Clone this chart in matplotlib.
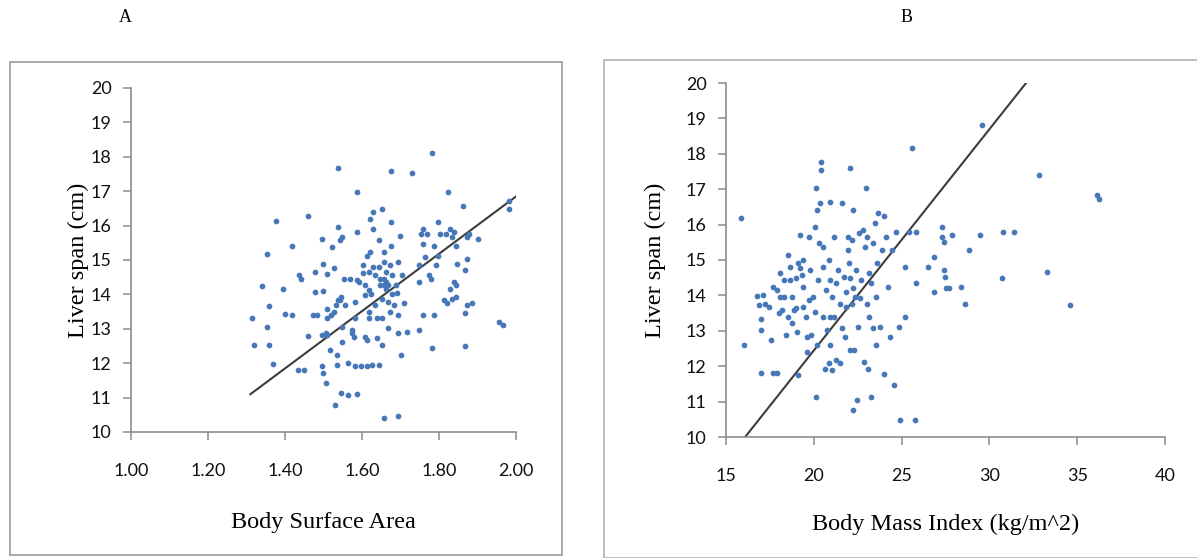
"""
Liver span vs body surface area (A) and body mass index (B)
"""

import numpy as np
import matplotlib
matplotlib.use("Agg")
import matplotlib.pyplot as plt
from matplotlib.patches import Rectangle

# panel A: body surface area vs liver span
bsa = [1.314, 1.319, 1.339, 1.352, 1.352, 1.359, 1.359, 1.369, 1.377, 1.394,
       1.399, 1.419, 1.419, 1.437, 1.442, 1.434, 1.449, 1.459, 1.459, 1.479,
       1.474, 1.484, 1.497, 1.499, 1.499, 1.497, 1.507, 1.508, 1.497, 1.499,
       1.507, 1.508, 1.510, 1.520, 1.516, 1.508, 1.528, 1.528, 1.533, 1.538,
       1.530, 1.538, 1.534, 1.536, 1.543, 1.548, 1.523, 1.543, 1.546, 1.548,
       1.553, 1.548, 1.546, 1.563, 1.563, 1.569, 1.573, 1.573, 1.578, 1.583,
       1.583, 1.583, 1.588, 1.588, 1.586, 1.538, 1.588, 1.593, 1.598, 1.603,
       1.603, 1.608, 1.608, 1.613, 1.613, 1.618, 1.618, 1.618, 1.620, 1.620,
       1.623, 1.626, 1.628, 1.628, 1.628, 1.633, 1.633, 1.638, 1.643, 1.643,
       1.648, 1.648, 1.651, 1.653, 1.653, 1.653, 1.656, 1.658, 1.658, 1.663,
       1.663, 1.663, 1.668, 1.668, 1.673, 1.676, 1.676, 1.676, 1.678, 1.678,
       1.683, 1.688, 1.690, 1.693, 1.693, 1.693, 1.693, 1.698, 1.700, 1.703,
       1.708, 1.718, 1.730, 1.748, 1.748, 1.748, 1.753, 1.758, 1.758, 1.768,
       1.763, 1.758, 1.773, 1.778, 1.783, 1.783, 1.788, 1.788, 1.793, 1.798,
       1.798, 1.803, 1.818, 1.823, 1.813, 1.820, 1.828, 1.828, 1.833, 1.838,
       1.838, 1.843, 1.843, 1.833, 1.843, 1.848, 1.862, 1.867, 1.867, 1.867,
       1.872, 1.872, 1.877, 1.872, 1.887, 1.902, 1.957, 1.967, 1.982, 1.982,
       1.608, 1.618, 1.643, 1.658, 1.658, 1.668, 1.613, 1.479, 1.557, 1.638,
       1.673]
liver_a = [13.30, 12.53, 14.24, 15.16, 13.04, 13.66, 12.53, 11.98, 16.12, 14.17,
           13.43, 13.40, 15.42, 14.56, 14.46, 11.81, 11.81, 16.29, 12.80, 14.65,
           13.40, 13.40, 15.62, 14.89, 14.10, 12.82, 12.87, 13.30, 11.91, 11.71,
           11.43, 14.58, 13.59, 13.40, 12.39, 12.82, 14.77, 13.49, 13.69, 13.83,
           10.78, 15.95, 11.94, 12.25, 15.57, 15.66, 15.38, 13.83, 13.93, 12.63,
           14.46, 13.06, 11.14, 11.09, 12.00, 14.46, 12.97, 12.87, 12.77, 13.79,
           13.30, 11.91, 15.81, 11.11, 16.97, 17.66, 14.41, 14.36, 11.91, 14.85,
           14.61, 14.27, 12.77, 11.91, 12.68, 14.65, 13.50, 13.30, 16.19, 15.23,
           14.00, 11.96, 16.39, 15.90, 14.80, 14.56, 13.69, 12.73, 11.96, 15.57,
           14.46, 14.27, 16.48, 13.88, 13.30, 12.53, 14.94, 10.41, 15.23, 14.65,
           14.36, 14.17, 13.02, 13.79, 13.50, 17.59, 16.10, 15.42, 14.56, 14.00,
           13.69, 14.27, 14.03, 10.46, 12.87, 13.40, 14.94, 15.71, 12.24, 14.56,
           13.74, 12.92, 17.54, 12.97, 14.36, 14.85, 15.76, 15.47, 15.90, 15.76,
           15.09, 13.40, 14.56, 14.46, 18.12, 12.44, 13.40, 15.42, 14.85, 15.13,
           16.10, 15.76, 15.76, 16.97, 13.83, 13.74, 14.17, 15.90, 15.66, 15.81,
           14.36, 14.27, 13.93, 13.88, 15.42, 14.89, 16.58, 14.70, 13.45, 12.49,
           15.04, 15.66, 15.76, 13.69, 13.74, 15.62, 13.21, 13.11, 16.72, 16.48,
           13.98, 14.13, 14.80, 14.27, 14.46, 14.27, 15.13, 14.07, 13.69, 13.30,
           14.85]
fit_a = (8.33, 0.186)  # slope, intercept
fit_a_x = [1.31, 2.00]

# panel B: body mass index vs liver span
bmi = [15.87, 16.05, 16.79, 16.86, 16.97, 16.97, 16.97, 17.12, 17.23, 17.45,
       17.56, 17.67, 17.88, 17.67, 17.88, 18.10, 17.99, 18.21, 18.32, 18.43,
       18.54, 18.54, 18.65, 18.76, 18.87, 18.98, 18.98, 19.02, 19.09, 19.09,
       19.20, 19.20, 19.31, 19.37, 19.41, 19.53, 19.63, 19.63, 19.74, 19.81,
       19.85, 19.96, 20.07, 20.11, 20.07, 20.11, 20.18, 20.18, 20.24, 20.29,
       20.40, 20.40, 20.33, 20.51, 20.51, 20.51, 20.62, 20.68, 20.73, 20.84,
       20.84, 20.90, 20.94, 20.94, 21.05, 21.05, 21.16, 21.27, 21.27, 21.38,
       21.49, 21.60, 21.60, 21.49, 21.71, 21.77, 21.82, 21.93, 21.93, 22.00,
       22.04, 22.04, 22.08, 22.15, 22.21, 22.26, 22.26, 22.30, 22.36, 22.43,
       22.47, 22.52, 22.58, 22.65, 22.69, 22.80, 22.87, 22.96, 23.02, 23.09,
       23.13, 23.17, 23.24, 23.24, 23.35, 23.39, 23.46, 23.52, 23.57, 23.61,
       23.68, 23.79, 23.89, 24.00, 24.00, 24.11, 24.22, 24.33, 24.44, 24.55,
       24.66, 24.88, 24.92, 25.21, 25.21, 25.42, 25.58, 25.75, 25.80, 25.80,
       26.52, 26.84, 26.84, 27.28, 27.32, 27.39, 27.39, 27.45, 27.50, 27.71,
       27.89, 28.37, 28.63, 28.81, 29.47, 29.58, 30.73, 30.78, 31.39, 32.85,
       33.29, 34.60, 36.13, 36.24,
       18.10, 18.32, 18.65, 18.76, 19.41, 19.74, 20.94, 21.16, 21.82, 22.15,
       22.91, 23.02]
liver_b = [16.20, 12.59, 13.99, 13.73, 13.32, 13.02, 11.81, 14.01, 13.77, 13.68,
           12.74, 11.81, 11.81, 14.25, 14.15, 13.96, 13.49, 13.58, 14.43, 12.88,
           15.14, 13.40, 14.43, 13.96, 13.58, 14.48, 13.63, 12.97, 11.75, 14.91,
           14.76, 15.71, 14.58, 14.25, 13.68, 13.40, 12.41, 12.83, 15.66, 14.72,
           12.88, 13.96, 13.54, 11.13, 15.94, 17.03, 16.42, 12.59, 14.43, 15.47,
           17.78, 17.53, 16.60, 15.38, 14.81, 13.40, 11.93, 14.15, 13.02, 12.08,
           15.00, 12.59, 13.40, 16.65, 13.96, 11.89, 13.40, 12.17, 14.34, 14.72,
           13.77, 13.07, 16.60, 12.08, 14.53, 12.83, 14.10, 15.66, 15.28, 14.91,
           14.48, 12.45, 17.59, 15.56, 16.42, 14.20, 10.75, 12.45, 13.96, 14.72,
           11.04, 13.11, 15.75, 13.92, 14.43, 15.85, 12.12, 17.03, 15.66, 11.93,
           14.62, 13.40, 11.13, 14.34, 15.47, 13.07, 16.04, 13.96, 12.59, 14.91,
           16.32, 13.11, 15.28, 11.79, 16.23, 15.66, 14.25, 12.83, 15.28, 11.46,
           15.80, 13.11, 10.47, 13.40, 14.81, 15.80, 18.16, 10.47, 14.34, 15.80,
           14.81, 15.09, 14.10, 15.94, 15.66, 15.52, 14.72, 14.53, 14.20, 14.20,
           15.71, 14.25, 13.77, 15.28, 15.71, 18.82, 14.48, 15.80, 15.80, 17.41,
           14.67, 13.73, 16.84, 16.72,
           14.62, 13.96, 14.81, 13.21, 15.00, 13.87, 14.43, 15.66, 13.68, 13.77,
           15.38, 13.77]
fit_b = (0.625, -0.056)
fit_b_x = [16.09, 32.09]

dot_color = "#4677b8"
line_color = "#3c3c3c"
spine_color = "#8c8c8c"
serif = ["Liberation Serif", "DejaVu Serif"]
sans = ["Lato", "DejaVu Sans"]

fig = plt.figure(figsize=(11.97, 5.58), dpi=100)

# panel borders
fig.patches.append(Rectangle((0.0084, 0.005), 0.461, 0.884, transform=fig.transFigure,
                             fill=False, edgecolor="#9a9a9a", linewidth=1.2))
fig.patches.append(Rectangle((0.5045, 0.0), 0.52, 0.893, transform=fig.transFigure,
                             fill=False, edgecolor="#b0b0b0", linewidth=1.2))

fig.text(125 / 1197, 1 - 18 / 558, "A", family=serif, fontsize=13, ha="center", va="center")
fig.text(907 / 1197, 1 - 18 / 558, "B", family=serif, fontsize=13, ha="center", va="center")


def style_axis(ax):
    for side in ["top", "right"]:
        ax.spines[side].set_visible(False)
    for side in ["left", "bottom"]:
        ax.spines[side].set_color(spine_color)
        ax.spines[side].set_linewidth(1.2)
    ax.tick_params(direction="out", length=6, width=1.1, color=spine_color,
                   labelsize=13, labelcolor="#111111")
    ax.tick_params(axis="x", pad=16)
    ax.tick_params(axis="y", pad=8)
    for lab in ax.get_xticklabels() + ax.get_yticklabels():
        lab.set_family(sans)


# ---- A ----
axA = fig.add_axes([131 / 1197, 1 - 432 / 558, 385 / 1197, 344 / 558])
axA.scatter(bsa, liver_a, s=17, color=dot_color, linewidths=0, zorder=3)
xa = np.array(fit_a_x)
axA.plot(xa, fit_a[0] * xa + fit_a[1], color=line_color, linewidth=1.5, zorder=2)
axA.set_xlim(1.0, 2.0)
axA.set_ylim(10, 20)
axA.set_xticks(np.arange(1.0, 2.01, 0.2))
axA.set_xticklabels(["1.00", "1.20", "1.40", "1.60", "1.80", "2.00"])
axA.set_yticks(range(10, 21))
style_axis(axA)
axA.set_xlabel("Body Surface Area", family=serif, fontsize=17.5, labelpad=24)
axA.set_ylabel("Liver span (cm)", family=serif, fontsize=17.5, labelpad=1)

# ---- B ----
axB = fig.add_axes([726 / 1197, 1 - 437 / 558, 439 / 1197, 354 / 558])
axB.scatter(bmi, liver_b, s=17, color=dot_color, linewidths=0, zorder=3)
xb = np.array(fit_b_x)
axB.plot(xb, fit_b[0] * xb + fit_b[1], color=line_color, linewidth=1.5, zorder=2)
axB.set_xlim(15, 40)
axB.set_ylim(10, 20)
axB.set_xticks(range(15, 41, 5))
axB.set_yticks(range(10, 21))
style_axis(axB)
axB.set_xlabel("Body Mass Index (kg/m^2)", family=serif, fontsize=17.5, labelpad=22)
axB.set_ylabel("Liver span (cm)", family=serif, fontsize=17.5, labelpad=14)

fig.savefig("out.png", dpi=100)
